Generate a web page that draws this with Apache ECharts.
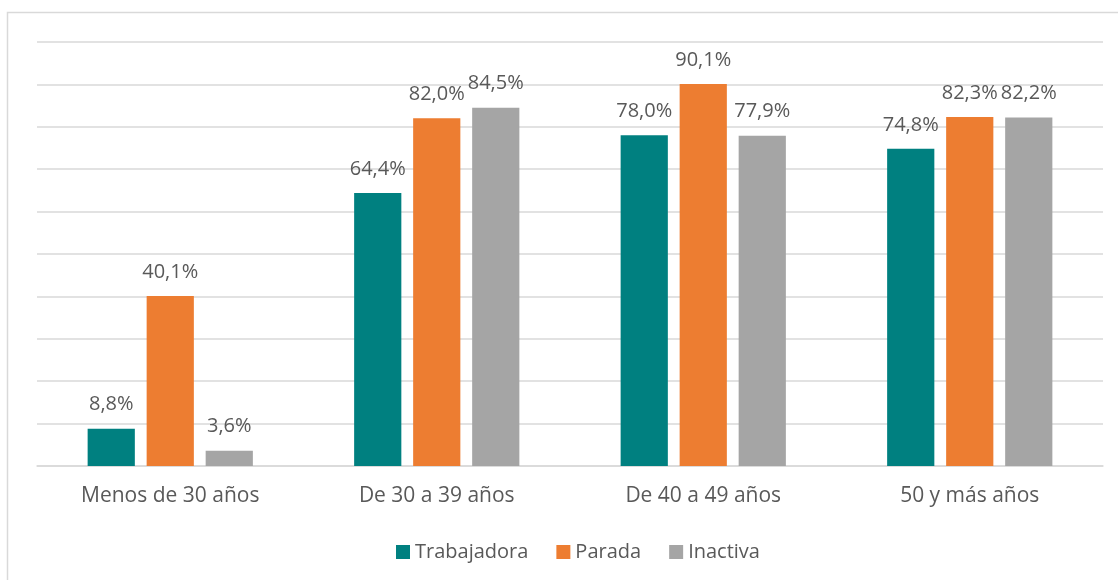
<!DOCTYPE html>
<html>
<head>
<meta charset="utf-8">
<script src="https://cdn.jsdelivr.net/npm/echarts@6/dist/echarts.min.js"></script>
<style>
  html, body { margin: 0; padding: 0; background: #fff; }
  #main { width: 1118px; height: 580px; }
</style>
</head>
<body>
<div id="main"></div>
<script>
var categories = ['Menos de 30 años', 'De 30 a 39 años', 'De 40 a 49 años', '50 y más años'];
var trabajadora = [8.8, 64.4, 78.0, 74.8];
var parada = [40.1, 82.0, 90.1, 82.3];
var inactiva = [3.6, 84.5, 77.9, 82.2];

var textColor = '#595959';
var fontName = '"Open Sans", "Liberation Sans", sans-serif';

function pctLabel(p) {
    return p.value.toFixed(1).replace('.', ',') + '%';
}

function makeSeries(name, data, color) {
    return {
        name: name,
        type: 'bar',
        data: data,
        barGap: '25%',
        barCategoryGap: '38%',
        itemStyle: { color: color },
        label: {
            show: true,
            position: 'top',
            distance: 14,
            formatter: pctLabel,
            color: textColor,
            fontSize: 20,
            fontFamily: fontName
        }
    };
}

var myChart = echarts.init(document.getElementById('main'));

var option = {
    animation: false,
    backgroundColor: '#fff',
    graphic: [{
        type: 'rect',
        shape: { x: 7.5, y: 12.5, width: 1200, height: 700 },
        style: { fill: 'none', stroke: '#d9d9d9', lineWidth: 1.5 },
        silent: true
    }],
    grid: { left: 37, right: 15, top: 42, bottom: 114 },
    legend: {
        top: 537,
        left: 391,
        itemWidth: 14,
        itemHeight: 14,
        itemGap: 28,
        icon: 'rect',
        textStyle: { color: textColor, fontSize: 20, fontFamily: fontName },
        data: ['Trabajadora', 'Parada', 'Inactiva']
    },
    xAxis: {
        type: 'category',
        data: categories,
        axisLine: { lineStyle: { color: '#d9d9d9', width: 1.5 } },
        axisTick: { show: false },
        axisLabel: { color: textColor, fontSize: 21, fontFamily: fontName, margin: 20 }
    },
    yAxis: {
        type: 'value',
        min: 0,
        max: 100,
        interval: 10,
        axisLabel: { show: false },
        axisLine: { show: false },
        axisTick: { show: false },
        splitLine: { lineStyle: { color: '#d9d9d9', width: 1.5 } }
    },
    series: [
        makeSeries('Trabajadora', trabajadora, '#008080'),
        makeSeries('Parada', parada, '#ed7d31'),
        makeSeries('Inactiva', inactiva, '#a5a5a5')
    ]
};

myChart.setOption(option);
</script>
</body>
</html>
